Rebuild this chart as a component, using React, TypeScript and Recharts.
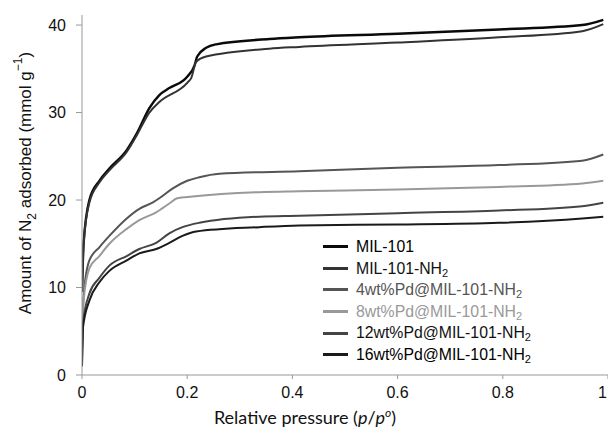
import { LineChart, Line, XAxis, YAxis, Legend } from "recharts"

// isotherms: [p/p0, amount (mmol/g)]
const mil101 = [
  [0, 9.5], [0.003, 15], [0.014, 20], [0.033, 22.2], [0.052, 23.6], [0.085, 25.7],
  [0.105, 27.7], [0.128, 30.5], [0.147, 32.0], [0.166, 32.8], [0.2, 34.1], [0.214, 35.4],
  [0.219, 36.4], [0.236, 37.4], [0.255, 37.8], [0.356, 38.4], [0.413, 38.6], [0.6, 39.0],
  [0.793, 39.5], [0.951, 40.0], [0.991, 40.6],
]
const mil101Nh2 = [
  [0, 9.5], [0.003, 15], [0.014, 19.7], [0.033, 22.0], [0.052, 23.4], [0.085, 25.5],
  [0.105, 27.5], [0.128, 30.0], [0.147, 31.2], [0.2, 33.4], [0.208, 34.0], [0.217, 35.8],
  [0.236, 36.4], [0.356, 37.3], [0.413, 37.5], [0.6, 38.0], [0.793, 38.6], [0.951, 39.3],
  [0.991, 40.1],
]
const pd4 = [
  [0, 3], [0.003, 9], [0.014, 13.1], [0.033, 14.6], [0.052, 15.9], [0.085, 17.9],
  [0.109, 19.0], [0.134, 19.7], [0.147, 20.2], [0.172, 21.3], [0.2, 22.2], [0.223, 22.6],
  [0.261, 23.0], [0.413, 23.3], [0.6, 23.7], [0.793, 24.0], [0.951, 24.5], [0.991, 25.2],
]
const pd8 = [
  [0, 3], [0.003, 8.5], [0.014, 12.2], [0.033, 13.6], [0.052, 15.0], [0.085, 16.7],
  [0.109, 17.7], [0.141, 18.6], [0.166, 19.6], [0.181, 20.2], [0.21, 20.4], [0.337, 20.9],
  [0.413, 21.0], [0.6, 21.2], [0.793, 21.5], [0.951, 21.9], [0.991, 22.2],
]
const pd12 = [
  [0, 1], [0.002, 6], [0.014, 9.3], [0.033, 11.1], [0.052, 12.5], [0.085, 13.6],
  [0.109, 14.4], [0.141, 15.1], [0.166, 16.2], [0.191, 16.9], [0.223, 17.4], [0.337, 18.1],
  [0.413, 18.2], [0.6, 18.5], [0.793, 18.8], [0.951, 19.3], [0.991, 19.7],
]
const pd16 = [
  [0, 1], [0.002, 5.5], [0.014, 8.5], [0.033, 10.6], [0.052, 11.9], [0.085, 13.1],
  [0.109, 13.9], [0.141, 14.4], [0.166, 15.1], [0.191, 15.9], [0.217, 16.4], [0.337, 16.9],
  [0.413, 17.1], [0.6, 17.2], [0.793, 17.4], [0.951, 17.9], [0.991, 18.1],
]

const xTicks = [0, 0.2, 0.4, 0.6, 0.8, 1]
const yTicks = [0, 10, 20, 30, 40]

const series = [
  { key: "mil101", name: "MIL-101", data: mil101, color: "#0a0a0a", text: "#000", width: 2.4 },
  { key: "mil101nh2", name: "MIL-101-NH2", data: mil101Nh2, color: "#333", text: "#111", width: 2 },
  { key: "pd4", name: "4wt%Pd@MIL-101-NH2", data: pd4, color: "#555", text: "#555", width: 2 },
  { key: "pd8", name: "8wt%Pd@MIL-101-NH2", data: pd8, color: "#999", text: "#999", width: 2 },
  { key: "pd12", name: "12wt%Pd@MIL-101-NH2", data: pd12, color: "#444", text: "#111", width: 2 },
  { key: "pd16", name: "16wt%Pd@MIL-101-NH2", data: pd16, color: "#1a1a1a", text: "#000", width: 2 },
]

const sans = "'Liberation Sans', Arial, sans-serif"

const withSub = (name: string) =>
  name.endsWith("NH2") ? (
    <>
      {name.slice(0, -1)}
      <sub style={{ fontSize: "0.7em", verticalAlign: "-0.25em", lineHeight: 0 }}>2</sub>
    </>
  ) : (
    name
  )

const renderLegend = () => (
  <div style={{ fontFamily: sans, fontSize: 15.8 }}>
    {series.map((s) => (
      <div key={s.key} style={{ display: "flex", alignItems: "center", height: 21.6, lineHeight: "21.6px" }}>
        <span style={{ display: "inline-block", width: 25, height: 3, background: s.color, marginRight: 8 }} />
        <span style={{ color: s.text }}>{withSub(s.name)}</span>
      </div>
    ))}
  </div>
)

// last tick sits on the right edge, so anchor it to the end instead of the middle
const XTick = (props: any) => {
  const { x, y, payload } = props
  const atEdge = x > 600
  return (
    <text
      x={atEdge ? 607 : x}
      y={y}
      dy="0.71em"
      textAnchor={atEdge ? "end" : "middle"}
      fill="#111"
      fontSize={16}
      fontFamily={sans}
    >
      {String(payload.value)}
    </text>
  )
}

const renderYTitle = () => (
  <text
    x={25}
    y={183}
    transform="rotate(-90 25 183)"
    textAnchor="middle"
    dominantBaseline="central"
    fontFamily={sans}
    fontSize={17}
    fill="#111"
  >
    Amount of N<tspan baselineShift="sub" fontSize={12}>2</tspan>
    <tspan> adsorbed (mmol g</tspan>
    <tspan baselineShift="super" fontSize={12}>−1</tspan>
    <tspan>)</tspan>
  </text>
)

const renderXTitle = () => (
  <text x={305} y={424} textAnchor="middle" fontFamily="Lato, sans-serif" fontSize={18} fill="#111">
    Relative pressure (<tspan fontStyle="italic">p</tspan>/<tspan fontStyle="italic">p</tspan>
    <tspan baselineShift="super" fontSize={12} fontStyle="italic">o</tspan>
    <tspan>)</tspan>
  </text>
)

export default function App() {
  return (
    <div style={{ position: "absolute", left: 0, top: 0, width: 608, height: 432, background: "#fff" }}>
      <LineChart width={608} height={432} margin={{ top: 15, right: 0, bottom: 0, left: 0 }}>
        <XAxis
          type="number"
          dataKey="p"
          domain={[0, 1]}
          ticks={xTicks}
          interval={0}
          allowDataOverflow
          height={57}
          stroke="#999"
          tickSize={4}
          tickMargin={8}
          tick={<XTick />}
          label={renderXTitle}
        />
        <YAxis
          type="number"
          domain={[0, 41.15]}
          ticks={yTicks}
          interval={0}
          allowDataOverflow
          width={82}
          stroke="#999"
          tickSize={6}
          tickMargin={10}
          tick={{ fill: "#111", fontSize: 16, fontFamily: sans }}
          label={renderYTitle}
        />
        <Legend
          layout="vertical"
          align="center"
          verticalAlign="middle"
          content={renderLegend}
          wrapperStyle={{ left: 323, top: 236, width: "auto", right: "auto", bottom: "auto" }}
        />
        {series.map((s) => (
          <Line
            key={s.key}
            name={s.name}
            data={s.data.map(([p, v]) => ({ p, v }))}
            dataKey="v"
            type="monotone"
            stroke={s.color}
            strokeWidth={s.width}
            dot={false}
            activeDot={false}
            isAnimationActive={false}
          />
        ))}
      </LineChart>
    </div>
  )
}
